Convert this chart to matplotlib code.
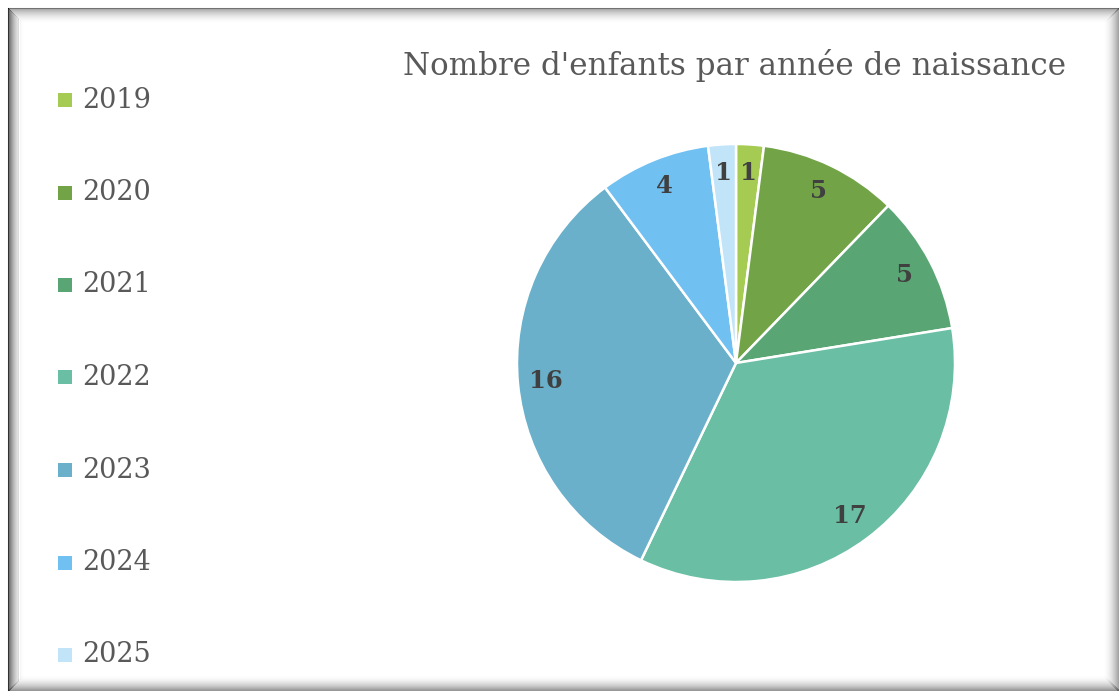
import matplotlib
matplotlib.use('Agg')
import matplotlib.pyplot as plt
from matplotlib.patches import Rectangle

years = ['2019', '2020', '2021', '2022', '2023', '2024', '2025']
counts = [1, 5, 5, 17, 16, 4, 1]
colors = ['#a5cb53', '#72a447', '#59a674', '#69bea3', '#6ab0cb', '#70c0f2', '#c1e4f8']
title = "Nombre d'enfants par année de naissance"

plt.rcParams['font.family'] = ['DejaVu Serif']

W, H = 1119, 691
fig = plt.figure(figsize=(W / 100, H / 100), dpi=100)

# pie axes: centre (736, 363) px, radius ~219 px
cx, cy, r = 736, 363, 219
ax = fig.add_axes([(cx - r) / W, 1 - (cy + r) / H, 2 * r / W, 2 * r / H])
wedges, texts = ax.pie(counts, colors=colors, startangle=90, counterclock=False,
                       labels=[str(c) for c in counts], labeldistance=0.87,
                       wedgeprops=dict(edgecolor='white', linewidth=1.8))
for t in texts:
    t.set_fontsize(17.5)
    t.set_fontweight('bold')
    t.set_color('#404040')
    t.set_ha('center')
    t.set_va('center')
ax.set_xlim(-1, 1)
ax.set_ylim(-1, 1)
ax.set_aspect('equal')
ax.axis('off')

fig.text(735 / W, 1 - 66 / H, title, ha='center', va='center',
         fontsize=22.3, color='#595959')

# legend, drawn by hand to keep the tall spacing
y0, dy = 100, 92.5
for i, (yr, col) in enumerate(zip(years, colors)):
    yc = y0 + i * dy
    fig.patches.append(Rectangle((58 / W, 1 - (yc + 7) / H), 14 / W, 14 / H,
                                 transform=fig.transFigure, facecolor=col,
                                 edgecolor='none'))
    fig.text(82 / W, 1 - yc / H, yr, ha='left', va='center',
             fontsize=19.5, color='#595959')


# frame with inner shadow (left/top darker, right/bottom fade to the edge)
def hline(y, xa, xb, a):
    fig.add_artist(plt.Line2D([xa / W, xb / W], [1 - y / H] * 2, color=(0, 0, 0, a),
                              lw=0.75, transform=fig.transFigure))


def vline(x, ya, yb, a):
    fig.add_artist(plt.Line2D([x / W] * 2, [1 - ya / H, 1 - yb / H], color=(0, 0, 0, a),
                              lw=0.75, transform=fig.transFigure))


x0, x1, yt, yb = 7.5, 1119, 7.5, 691
for k in range(16):
    f = (1 - k / 16) ** 2
    vline(x0 + k, yt + k, yb - k, 0.6 * f)
    hline(yt + k, x0 + k, x1 - k, 0.35 * f)
    vline(x1 - 1 - k, yt + k, yb - k, 0.35 * f)
    hline(yb - 1 - k, x0 + k, x1 - k, 0.4 * f)
vline(x0, yt, yb, 0.5)
hline(yt, x0, x1, 0.3)

fig.savefig('out.png', dpi=100)
